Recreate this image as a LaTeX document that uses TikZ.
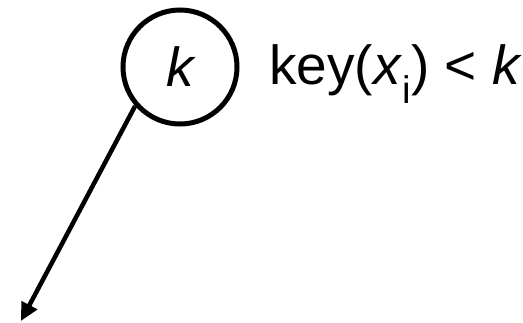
\documentclass[tikz,border=0pt]{standalone}
\usepackage{fontspec}
\setmainfont{Liberation Sans}
\usetikzlibrary{arrows.meta}
\begin{document}
\begin{tikzpicture}[x=1pt,y=-1pt,
  keynode/.style={circle,draw,line width=5pt,minimum size=114pt,inner sep=0pt},
  lbl/.style={font=\fontsize{55}{58}\selectfont,inner sep=0pt},
  arr/.style={line width=4.5pt,-{Triangle[length=18pt,width=17pt]}}]
\useasboundingbox (0,0) rectangle (523,322);
\node[keynode] (k) at (180,67) {};
\node[lbl,anchor=base] (kt) at (181,86) {\textit{k}};
\node[lbl,anchor=base west] (t) at (269,84) {key(\textit{x}\textsubscript{i}) < \textit{k}};
\coordinate (end) at (21,321);
\draw[arr] (k.221) -- (end);
\end{tikzpicture}
\end{document}
